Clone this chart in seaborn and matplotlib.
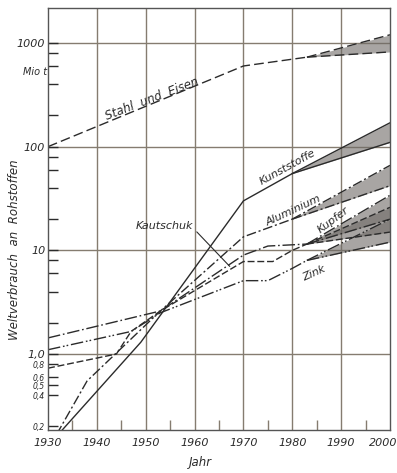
import numpy as np
import pandas as pd
import matplotlib
matplotlib.use("Agg")
import matplotlib.pyplot as plt
import matplotlib.transforms as mtransforms
import seaborn as sns
from matplotlib.ticker import FixedLocator, FixedFormatter, NullFormatter

# ---------------- data ----------------
stahl_years = [1930, 1970, 1983]
stahl_vals = [100, 600, 730]
stahl_fan = (820, 1200)

kunst_years = [1930, 1949, 1970, 1980]
kunst_vals = [0.13, 1.3, 30, 55]
kunst_fan = (110, 170)

alu_years = [1930, 1938, 1953, 1970, 1980]
alu_vals = [0.12, 0.55, 2.6, 13.5, 20]
alu_fan = (42, 66)

kautschuk_years = [1930, 1944, 1947, 1953, 1970, 1976, 1980, 1983]
kautschuk_vals = [0.73, 1.0, 1.65, 2.6, 7.8, 7.8, 10, 11.5]
kautschuk_fan = (15, 26)

kupfer_years = [1930, 1953, 1970, 1975, 1983]
kupfer_vals = [1.43, 2.6, 9, 11, 11.5]
kupfer_fan = (20, 34)

zink_years = [1930, 1947, 1953, 1970, 1975, 1980, 1983]
zink_vals = [1.1, 1.65, 2.5, 5.1, 5.1, 6.7, 8]
zink_fan = (12, 20)

fan_end_year = 2000

x_ticks = [1930, 1940, 1950, 1960, 1970, 1980, 1990, 2000]
x_minor = [1935, 1945, 1955, 1965, 1975, 1985, 1995]
y_major = [1, 10, 100, 1000]
y_major_labels = ["1,0", "10", "100", "1000"]
y_small = [0.2, 0.4, 0.5, 0.6, 0.8]
y_small_labels = ["0,2", "0,4", "0,5", "0,6", "0,8"]
y_minor = [2, 4, 6, 8, 20, 40, 60, 80, 200, 400, 600, 800]

# ---------------- style ----------------
sns.set_theme(style="white")
plt.rcParams["font.family"] = ["DejaVu Sans"]
ink = "#2b2b2b"
grid_c = "#857c70"

W, H = 397, 473
fig = plt.figure(figsize=(W / 100, H / 100), dpi=100)
fig.patch.set_facecolor("white")
ax = fig.add_axes([48 / W, 1 - 430 / H, (390 - 48) / W, (430 - 8) / H])
ax.set_facecolor("white")

series = [
    ("Stahl", stahl_years, stahl_vals, stahl_fan, (0, (7, 3))),
    ("Kunststoffe", kunst_years, kunst_vals, kunst_fan, "-"),
    ("Aluminium", alu_years, alu_vals, alu_fan, (0, (7, 2, 1.5, 2))),
    ("Kautschuk", kautschuk_years, kautschuk_vals, kautschuk_fan, (0, (5, 2))),
    ("Kupfer", kupfer_years, kupfer_vals, kupfer_fan, (0, (9, 2, 1.2, 2))),
    ("Zink", zink_years, zink_vals, zink_fan, (0, (9, 2, 1.2, 1.5, 1.2, 2))),
]

for name, yrs, vals, fan, ls in series:
    df = pd.DataFrame({"Jahr": yrs, "Wert": vals})
    sns.lineplot(data=df, x="Jahr", y="Wert", ax=ax, color=ink, lw=1.0,
                 linestyle=ls, estimator=None, sort=False)
    fx = [yrs[-1], fan_end_year]
    lo = [vals[-1], fan[0]]
    hi = [vals[-1], fan[1]]
    ax.fill_between(fx, lo, hi, color="#6e6a66", alpha=0.6, lw=0)
    for b in (lo, hi):
        sns.lineplot(x=fx, y=b, ax=ax, color=ink, lw=1.0, linestyle=ls,
                     estimator=None, sort=False)

ax.set_yscale("log")
ax.set_xlim(1930, 2000)
ax.set_ylim(0.185, 2175)
ax.set_xlabel("")
ax.set_ylabel("")

# grid
for x in x_ticks[1:-1]:
    ax.axvline(x, color=grid_c, lw=1.0, zorder=0)
for y in y_major:
    ax.axhline(y, color=grid_c, lw=1.0, zorder=0)

# ticks
ax.xaxis.set_major_locator(FixedLocator(x_ticks))
ax.xaxis.set_major_formatter(FixedFormatter([str(t) for t in x_ticks]))
ax.xaxis.set_minor_locator(FixedLocator(x_minor))
ax.tick_params(axis="x", which="major", direction="in", length=0, pad=6,
               labelsize=8, colors=ink)
ax.tick_params(axis="x", which="minor", direction="in", length=7, width=1,
               color=grid_c, bottom=True)
xlabs = ax.get_xticklabels()
for lab in xlabs:
    lab.set_style("italic")
shift = mtransforms.ScaledTranslation(-7 / 100, 0, fig.dpi_scale_trans)
xlabs[-1].set_transform(xlabs[-1].get_transform() + shift)

ax.yaxis.set_major_locator(FixedLocator(y_major + y_small))
ax.yaxis.set_major_formatter(FixedFormatter(y_major_labels + y_small_labels))
ax.yaxis.set_minor_locator(FixedLocator(y_minor))
ax.yaxis.set_minor_formatter(NullFormatter())
ax.tick_params(axis="y", which="major", direction="in", length=7, width=1,
               pad=2, labelsize=8, colors=ink, left=True)
ax.tick_params(axis="y", which="minor", direction="in", length=7, width=1,
               color=ink, left=True)
for lab, v in zip(ax.get_yticklabels(), y_major + y_small):
    lab.set_style("italic")
    if v < 1:
        lab.set_fontsize(5.5)

for s in ax.spines.values():
    s.set_color("#555555")
    s.set_linewidth(1.0)
    s.set_visible(True)

# line labels
kw = dict(color=ink, fontsize=8, style="italic", ha="center", va="center")
ax.text(1951.3, 290, "Stahl  und  Eisen", rotation=21, fontsize=8.5,
        **{k: v for k, v in kw.items() if k != "fontsize"})
ax.text(1979.0, 64, "Kunststoffe", rotation=29, **kw)
ax.text(1980.2, 24, "Aluminium", rotation=25, **kw)
ax.text(1988.3, 19.5, "Kupfer", rotation=37, **kw)
ax.text(1984.4, 6.0, "Zink", rotation=24, **kw)
ax.annotate("Kautschuk", xy=(1967.2, 7.0), xytext=(1953.9, 17.0),
            arrowprops=dict(arrowstyle="-", color=ink, lw=0.8,
                            shrinkA=0, shrinkB=0, relpos=(1.0, 0.3)),
            **kw)

fig.text(35 / W, 1 - 72 / H, "Mio t", color=ink, fontsize=7, style="italic",
         ha="center", va="center")
fig.text(15 / W, 1 - 250 / H, "Weltverbrauch  an  Rohstoffen", color=ink,
         fontsize=8.5, style="italic", rotation=90, ha="center", va="center")
fig.text(200 / W, 1 - 462 / H, "Jahr", color=ink, fontsize=8.5,
         style="italic", ha="center", va="center")

fig.savefig("out.png", dpi=100)
